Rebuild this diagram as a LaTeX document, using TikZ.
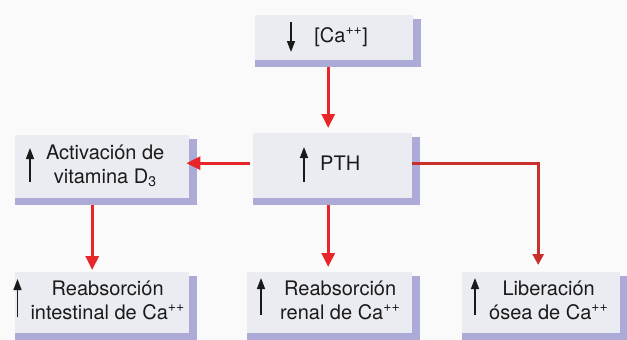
\documentclass[tikz,border=0pt]{standalone}
\usepackage{fontspec}
\setmainfont{TeX Gyre Heros}
\usetikzlibrary{calc,arrows.meta}
\definecolor{bgc}{HTML}{FAFAFA}
\definecolor{boxc}{HTML}{EBECF1}
\definecolor{stripc}{HTML}{ACAAD6}
\definecolor{redc}{HTML}{E8262A}
\definecolor{dredc}{HTML}{C9302C}
\definecolor{txtc}{HTML}{1A1A1A}
\newcommand\bxt[2]{\hspace*{#1pt}\begin{tabular}{@{}c@{}}#2\end{tabular}}
\tikzset{
  fbox/.style={fill=boxc, inner sep=0pt, anchor=north west, text=txtc,
    font=\fontsize{20}{24}\selectfont},
  redarr/.style={draw=redc, line width=3pt, -{Triangle[width=13pt,length=14pt]}},
  elbowarr/.style={draw=dredc, line width=3pt, -{Triangle[width=11pt,length=11pt]}},
  blkarr/.style={draw=txtc, line width=1.5pt, -{Triangle[width=8pt,length=11pt]}},
}
\begin{document}
\begin{tikzpicture}[x=1pt,y=-1pt]
\fill[bgc] (0,0) rectangle (627,340);
\useasboundingbox (0,0) rectangle (627,340);

\node[fbox, minimum width=158pt, minimum height=45pt] (ca) at (255,15)
  {\bxt{14}{[Ca\textsuperscript{++}]}};
\node[fbox, minimum width=159pt, minimum height=65pt] (pth) at (253,133)
  {\bxt{15}{PTH}};
\node[fbox, minimum width=174pt, minimum height=63pt] (vit) at (15,135)
  {\bxt{6}{Activación de\\vitamina D\textsubscript{3}}};
\node[fbox, minimum width=174pt, minimum height=61pt] (int) at (15,272)
  {\bxt{11}{Reabsorción\\intestinal de Ca\textsuperscript{++}}};
\node[fbox, minimum width=165pt, minimum height=61pt] (ren) at (247,272)
  {\bxt{21}{Reabsorción\\renal de Ca\textsuperscript{++}}};
\node[fbox, minimum width=158pt, minimum height=61pt] (ose) at (462,272)
  {\bxt{15}{Liberación\\ósea de Ca\textsuperscript{++}}};

\foreach \n in {ca,pth,vit,int,ren,ose}{
  \fill[stripc] ($(\n.north east)+(0,4)$) rectangle ($(\n.south east)+(8,7)$);
  \fill[stripc] (\n.south west) rectangle ($(\n.south east)+(8,7)$);
}

% small black arrows
\draw[blkarr] ($(ca.north west)+(36,7)$) -- ($(ca.north west)+(36,37)$);
\draw[blkarr] ($(pth.north west)+(51,49)$) -- ($(pth.north west)+(51,14)$);
\draw[blkarr] ($(vit.north west)+(15,47)$) -- ($(vit.north west)+(15,13)$);
\draw[blkarr] ($(int.north west)+(2.5,45)$) -- ($(int.north west)+(2.5,7)$);
\draw[blkarr] ($(ren.north west)+(14,43)$) -- ($(ren.north west)+(14,6)$);
\draw[blkarr] ($(ose.north west)+(13,43)$) -- ($(ose.north west)+(13,6)$);

% red connectors
\coordinate (c1) at ($(ca.south)+(-6,7)$);
\draw[redarr, shorten >=5pt] (c1) -- (c1 |- pth.north);
\coordinate (c2) at ($(pth.west)+(-3,-2.5)$);
\draw[redarr, shorten >=-3pt] (c2) -- (c2 -| vit.east);
\coordinate (c3) at ($(pth.south)+(-4.5,7)$);
\draw[redarr, shorten >=5pt] (c3) -- (c3 |- ren.north);
\coordinate (c4) at ($(vit.south)+(-10,7)$);
\draw[redarr, shorten >=2pt] (c4) -- (c4 |- int.north);
\coordinate (c5) at ($(pth.east)+(0,-2.5)$);
\coordinate (c6) at ($(ose.north)+(-3,0)$);
\draw[elbowarr, shorten >=7pt] (c5) -| (c6);
\end{tikzpicture}
\end{document}
